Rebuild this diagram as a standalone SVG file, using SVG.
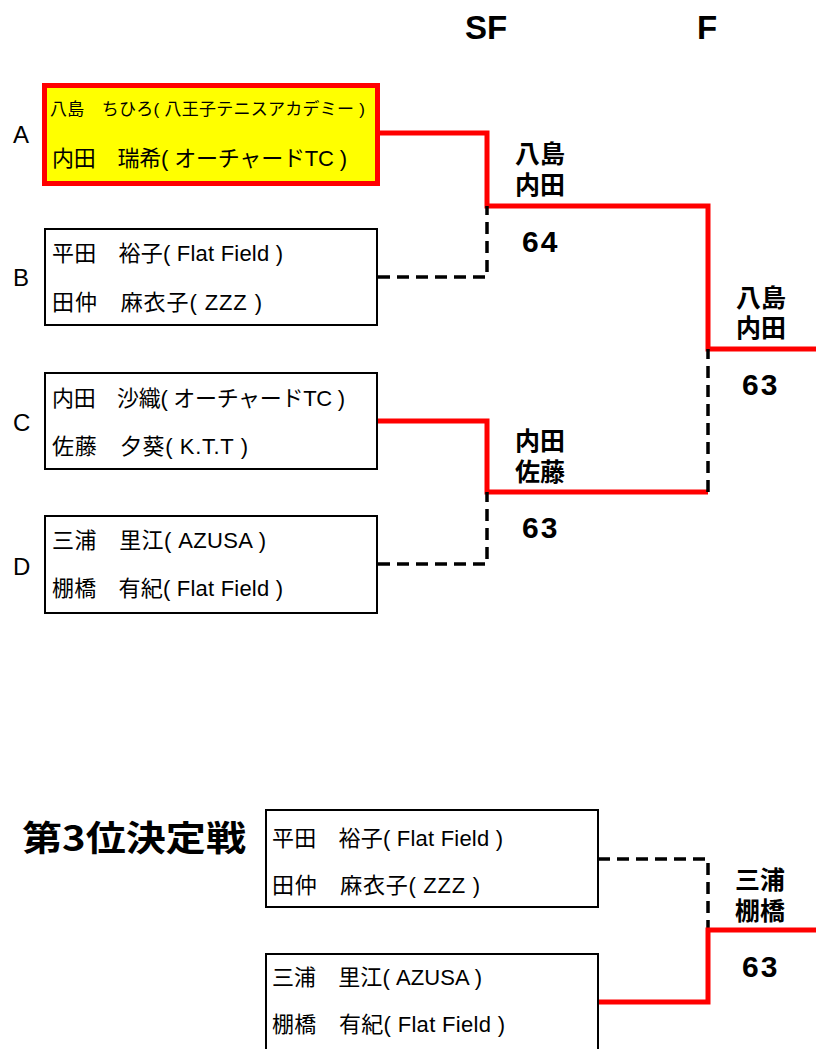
<svg xmlns="http://www.w3.org/2000/svg" width="816" height="1049" viewBox="0 0 816 1049">
<style>
.box{fill:#fff;stroke:#000;stroke-width:2}
.boxw{fill:#ffff00;stroke:#ff0000;stroke-width:5}
.t{font-family:"Liberation Sans","Noto Sans CJK JP",sans-serif;fill:#000}
.lbl{font-family:"Liberation Sans","Noto Sans CJK JP",sans-serif;font-size:24px;fill:#000}
.hd{font-family:"Liberation Sans","Noto Sans CJK JP",sans-serif;font-size:33px;font-weight:bold;fill:#000}
.win{font-family:"Noto Sans CJK JP",sans-serif;font-size:25px;font-weight:bold;fill:#000}
.sc{font-family:"Liberation Sans",sans-serif;font-size:30px;font-weight:bold;letter-spacing:2px;fill:#000}
.red{fill:none;stroke:#ff0000;stroke-width:5}
.dash{fill:none;stroke:#000;stroke-width:3.5;stroke-dasharray:12 7}
</style>
<text class="hd" x="465" y="39">SF</text>
<text class="hd" x="697" y="39">F</text>
<text class="lbl" x="13" y="143">A</text>
<text class="lbl" x="13" y="286">B</text>
<text class="lbl" x="13" y="431">C</text>
<text class="lbl" x="13" y="575">D</text>
<g id="connectors">
<polyline class="red" points="378,133 487,133 487,206 708,206 708,349 816,349"/>
<polyline class="dash" points="378,277 487,277 487,206"/>
<polyline class="red" points="378,421 487,421 487,492 708,492"/>
<polyline class="dash" points="708,492 708,349"/>
<polyline class="dash" points="378,564 487,564 487,492"/>
<polyline class="dash" points="598,859 708,859 708,930"/>
<polyline class="red" points="598,1002 708,1002 708,930 816,930"/>
</g>
<g id="nodeA">
<rect class="boxw" x="44.5" y="85.5" width="333" height="98"/>
<text class="t" x="50" y="115" font-size="17" textLength="315" lengthAdjust="spacing">八島　ちひろ( 八王子テニスアカデミー )</text>
<text class="t" x="52" y="166" font-size="22" textLength="295" lengthAdjust="spacing">内田　瑞希( オーチャードTC )</text>
</g>
<g id="nodeB">
<rect class="box" x="45" y="229" width="332" height="96"/>
<text class="t" x="52" y="261" font-size="22" textLength="231" lengthAdjust="spacing">平田　裕子( Flat Field )</text>
<text class="t" x="52" y="310" font-size="22" textLength="210" lengthAdjust="spacing">田仲　麻衣子( ZZZ )</text>
</g>
<g id="nodeC">
<rect class="box" x="45" y="373" width="332" height="96"/>
<text class="t" x="52" y="406" font-size="22" textLength="293" lengthAdjust="spacing">内田　沙織( オーチャードTC )</text>
<text class="t" x="52" y="454" font-size="22" textLength="196" lengthAdjust="spacing">佐藤　夕葵( K.T.T )</text>
</g>
<g id="nodeD">
<rect class="box" x="45" y="516" width="332" height="97"/>
<text class="t" x="52" y="548" font-size="22" textLength="214" lengthAdjust="spacing">三浦　里江( AZUSA )</text>
<text class="t" x="52" y="596" font-size="22" textLength="231" lengthAdjust="spacing">棚橋　有紀( Flat Field )</text>
</g>
<g id="sf1">
<text class="win" x="515" y="163">八島<tspan x="515" dy="31">内田</tspan></text>
<text class="sc" x="522" y="252">64</text>
</g>
<g id="sf2">
<text class="win" x="515" y="450">内田<tspan x="515" dy="31">佐藤</tspan></text>
<text class="sc" x="522" y="538">63</text>
</g>
<g id="final">
<text class="win" x="736" y="307">八島<tspan x="736" dy="30">内田</tspan></text>
<text class="sc" x="742" y="395">63</text>
</g>
<text x="22" y="851" font-family="Noto Sans CJK JP,sans-serif" font-size="35" font-weight="bold" textLength="224" lengthAdjust="spacingAndGlyphs">第3位決定戦</text>
<g id="third1">
<rect class="box" x="266" y="810" width="332" height="97"/>
<text class="t" x="272" y="846" font-size="22" textLength="231" lengthAdjust="spacing">平田　裕子( Flat Field )</text>
<text class="t" x="272" y="893" font-size="22" textLength="208" lengthAdjust="spacing">田仲　麻衣子( ZZZ )</text>
</g>
<g id="third2">
<rect class="box" x="266" y="954" width="332" height="110"/>
<text class="t" x="272" y="985" font-size="22" textLength="210" lengthAdjust="spacing">三浦　里江( AZUSA )</text>
<text class="t" x="272" y="1032" font-size="22" textLength="233" lengthAdjust="spacing">棚橋　有紀( Flat Field )</text>
</g>
<g id="third-result">
<text class="win" x="735" y="889">三浦<tspan x="735" dy="31">棚橋</tspan></text>
<text class="sc" x="742" y="977">63</text>
</g>
</svg>
